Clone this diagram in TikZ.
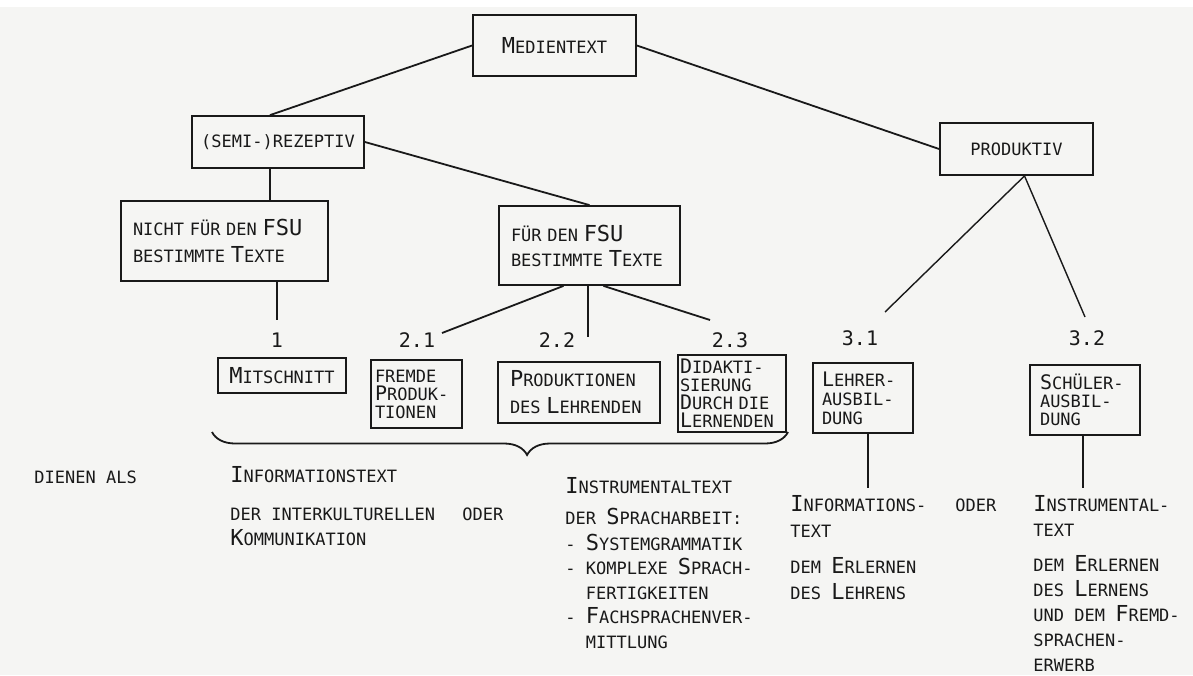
\documentclass[tikz,border=0pt]{standalone}
\usepackage{fontspec}
\setmonofont{DejaVu Sans Mono}
\usetikzlibrary{decorations.pathreplacing}

\definecolor{ink}{RGB}{25,25,25}
\definecolor{paper}{RGB}{245,245,243}
% larger initial letter of the small-caps look
\newcommand{\bg}[1]{{\fontsize{11}{11}\selectfont #1}}
\newcommand{\bgs}[1]{{\fontsize{10}{10}\selectfont #1}}

\tikzset{
  every node/.style={text=ink, font=\ttfamily\fontsize{8.5}{13.5}\selectfont},
  tbox/.style={draw=ink, line width=0.9pt, inner ysep=0pt},
  tight/.style={font=\ttfamily\fontsize{8.5}{9}\selectfont},
  nr/.style={font=\ttfamily\fontsize{10}{10}\selectfont, inner sep=0pt},
  conn/.style={draw=ink, line width=0.9pt},
  lbl/.style={anchor=base west, inner sep=0pt},
  block/.style={anchor=north west, align=left, inner sep=0pt}
}

\begin{document}
\begin{tikzpicture}[x=0.5pt, y=-0.5pt]
  \useasboundingbox (0,0) rectangle (1193,675);
  \fill[paper] (0,7) rectangle (1193,675);

  % Top levels
  \node[tbox, minimum width=81.5pt, minimum height=30.5pt] (medien) at (554.5,45.5) {\bg{M}EDIENTEXT};
  \node[tbox, minimum width=86pt, minimum height=26pt] (semi) at (278,142) {(SEMI-)REZEPTIV};
  \node[tbox, minimum width=76.5pt, minimum height=26pt] (prod) at (1016.5,149) {PRODUKTIV};
  \node[tbox, inner xsep=6pt, text width=91.5pt, minimum height=40pt, align=left] (nicht) at (224.5,241)
    {NICHT~FÜR~DEN~\bg{FSU}\\ BESTIMMTE~\bg{T}EXTE};
  \node[tbox, inner xsep=6pt, text width=78.5pt, minimum height=39.5pt, align=left,
    font=\ttfamily\fontsize{8.5}{12.5}\selectfont] (fsu) at (589.5,245.5)
    {FÜR~DEN~\bg{FSU}\\ BESTIMMTE~\bg{T}EXTE};

  % Numbered text types
  \node[nr] (l1) at (277,340) {1};
  \node[nr] (l21) at (417,340) {2.1};
  \node[nr] (l22) at (557,340) {2.2};
  \node[nr] (l23) at (730,340) {2.3};
  \node[nr] (l31) at (860,338) {3.1};
  \node[nr] (l32) at (1087,338) {3.2};

  \node[tbox, minimum width=64pt, minimum height=17.5pt] (mitsch) at (282,375.5) {\bg{M}ITSCHNITT};
  \node[tbox, tight, inner xsep=2pt, text width=41.5pt, minimum height=34pt, align=left] (fremde) at (416.5,394)
    {FREMDE\\ \bgs{P}RODUK-\\ TIONEN};
  \node[tbox, inner xsep=6pt, text width=69pt, minimum height=30.5pt, align=left] (lehrend) at (579,392.5)
    {\bg{P}RODUKTIONEN\\ DES~\bg{L}EHRENDEN};
  \node[tbox, tight, inner xsep=1pt, text width=52pt, minimum height=38.5pt, align=left] (didakt) at (732,393.5)
    {\bgs{D}IDAKTI-\\ SIERUNG\\ \bgs{D}URCH~DIE\\ \bgs{L}ERNENDEN};
  \node[tbox, tight, inner xsep=4.5pt, text width=41pt, minimum height=35pt, align=left,
    font=\ttfamily\fontsize{8.5}{9.5}\selectfont] (lehrer) at (863,398)
    {\bgs{L}EHRER-\\ AUSBIL-\\ DUNG};
  \node[tbox, tight, inner xsep=5pt, text width=45pt, minimum height=35pt, align=left] (schueler) at (1085,400)
    {\bgs{S}CHÜLER-\\ AUSBIL-\\ DUNG};

  % Connectors
  \draw[conn] (medien.west) -- ([xshift=-4pt]semi.north);
  \draw[conn] (medien.east) -- (prod.west);
  \draw[conn] (semi.east) -- (fsu.north);
  \draw[conn] ([xshift=-4pt]semi.south) -- ([xshift=-4pt]semi.south |- nicht.north);
  \coordinate (e1) at (277,320);
  \coordinate (e21) at (442,333);
  \coordinate (e22) at (588,337);
  \coordinate (e23) at (710,320);
  \coordinate (e31) at (885,312);
  \coordinate (e32) at (1085,317);
  \coordinate (e41) at (868,488);
  \coordinate (e42) at (1083,488);
  \draw[conn] (nicht.south -| e1) -- (e1);
  \draw[conn] ([xshift=-13pt]fsu.south) -- (e21);
  \draw[conn] (fsu.south -| e22) -- (e22);
  \draw[conn] ([xshift=7pt]fsu.south) -- (e23);
  \draw[conn, line width=0.7pt] ([xshift=4pt]prod.south) -- (e31);
  \draw[conn, line width=0.7pt] ([xshift=4pt]prod.south) -- (e32);
  \draw[conn] (lehrer.south -| e41) -- (e41);
  \draw[conn] (schueler.south -| e42) -- (e42);

  % Brace under 1 to 2.3
  \draw[ink, line width=0.9pt, decorate, decoration={brace, mirror, amplitude=11.5pt, aspect=0.547}]
    (212,432) -- (788,432);

  % Functions
  \node[lbl] (dienen) at (34,483) {DIENEN ALS};
  \node[block, font=\ttfamily\fontsize{8.5}{12.5}\selectfont] (info1) at (230,466)
    {\bg{I}NFORMATIONSTEXT\\[6.5pt] DER INTERKULTURELLEN\\ \bg{K}OMMUNIKATION};
  \node[lbl] (oder1) at (462,520) {ODER};
  \node[block, font=\ttfamily\fontsize{8.5}{12.25}\selectfont] (instr1) at (565,477)
    {\bg{I}NSTRUMENTALTEXT\\[3.25pt] DER \bg{S}PRACHARBEIT:\\[0.75pt] - \bg{S}YSTEMGRAMMATIK\\ - KOMPLEXE \bg{S}PRACH-\\
     \phantom{- }FERTIGKEITEN\\ - \bg{F}ACHSPRACHENVER-\\ \phantom{- }MITTLUNG};
  \node[block, font=\ttfamily\fontsize{8.5}{13}\selectfont] (info2) at (790,495)
    {\bg{I}NFORMATIONS-\\ TEXT\\[5pt] DEM \bg{E}RLERNEN\\ DES \bg{L}EHRENS};
  \node[lbl] (oder2) at (955,511) {ODER};
  \node[block, font=\ttfamily\fontsize{8.5}{12.5}\selectfont] (instr2) at (1033,495)
    {\bg{I}NSTRUMENTAL-\\ TEXT\\[5pt] DEM \bg{E}RLERNEN\\ DES \bg{L}ERNENS\\ UND DEM \bg{F}REMD-\\ SPRACHEN-\\ ERWERB};
\end{tikzpicture}
\end{document}
